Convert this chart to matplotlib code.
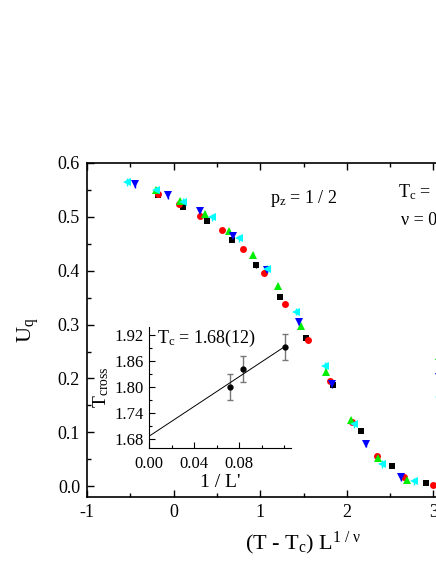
import numpy as np
import matplotlib
matplotlib.use("Agg")
import matplotlib.pyplot as plt
from matplotlib.ticker import MultipleLocator, AutoMinorLocator

plt.rcParams['font.family'] = ['Liberation Serif', 'DejaVu Serif']
plt.rcParams['mathtext.fontset'] = 'custom'
plt.rcParams['mathtext.rm'] = 'Liberation Serif'
plt.rcParams['mathtext.it'] = 'Liberation Serif'
plt.rcParams['mathtext.default'] = 'regular'
plt.rcParams['axes.unicode_minus'] = False

# scaled Binder cumulant, one series per lattice size
x_black = [-0.18, 0.11, 0.39, 0.67, 0.95, 1.23, 1.53, 1.84, 2.16, 2.52, 2.92]
y_black = [0.540, 0.519, 0.492, 0.457, 0.410, 0.351, 0.276, 0.188, 0.103, 0.037, 0.006]

x_red = [-0.18, 0.06, 0.31, 0.555, 0.80, 1.04, 1.29, 1.55, 1.81, 2.06, 2.35, 2.66, 3.00]
y_red = [0.542, 0.524, 0.502, 0.475, 0.440, 0.395, 0.339, 0.271, 0.195, 0.120, 0.056, 0.017, 0.002]

x_green = [-0.20, 0.07, 0.36, 0.64, 0.92, 1.20, 1.47, 1.76, 2.05, 2.36, 2.69]
y_green = [0.550, 0.530, 0.505, 0.473, 0.430, 0.372, 0.298, 0.212, 0.123, 0.053, 0.011]

x_blue = [-0.45, -0.07, 0.31, 0.69, 1.08, 1.45, 1.83, 2.22, 2.63]
y_blue = [0.561, 0.541, 0.511, 0.464, 0.402, 0.305, 0.190, 0.079, 0.017]

x_cyan = [-0.54, -0.20, 0.105, 0.44, 0.76, 1.08, 1.41, 1.75, 2.08, 2.41, 2.78]
y_cyan = [0.565, 0.549, 0.528, 0.499, 0.460, 0.403, 0.324, 0.223, 0.115, 0.041, 0.009]

labels = ['L = 8', 'L = 10', 'L = 12', 'L = 14', 'L = 16']

# inset: crossing temperatures vs 1/L'
inv_L = [0.072, 0.083, 0.121]
T_cross = [1.800, 1.841, 1.891]
T_err = [0.03, 0.03, 0.03]

fig = plt.figure(figsize=(4.36, 5.64), dpi=100)
ax = fig.add_axes([87/436, 1 - 497/564, 5*86.6/436, (497 - 163)/564])

series = [
    (x_black, y_black, 's', 'black', 4.0, 0.004),
    (x_red, y_red, 'o', 'red', 5.0, 0.004),
    (x_green, y_green, '^', '#00ee00', 5.5, 0.005),
    (x_blue, y_blue, 'v', 'blue', 5.5, 0.007),
    (x_cyan, y_cyan, '<', 'cyan', 5.5, 0.007),
]
handles = []
for (xs, ys, m, c, ms, err), lab in zip(series, labels):
    h = ax.errorbar(xs, ys, yerr=err, fmt=m, color=c, ms=ms, mew=0,
                    elinewidth=1, capsize=2.5, label=lab)
    handles.append(h)

ax.set_xlim(-1, 4)
ax.set_ylim(-0.02, 0.6)
ax.xaxis.set_major_locator(MultipleLocator(1))
ax.xaxis.set_minor_locator(MultipleLocator(0.5))
ax.yaxis.set_major_locator(MultipleLocator(0.1))
ax.yaxis.set_minor_locator(MultipleLocator(0.05))
ax.yaxis.set_major_formatter(matplotlib.ticker.FormatStrFormatter('%.1f'))
ax.tick_params(which='both', direction='in', top=True, right=True, labelsize=13, width=1)
ax.tick_params(which='major', length=5, pad=5)
ax.tick_params(which='minor', length=3)
for s in ax.spines.values():
    s.set_linewidth(1.2)

ax.set_xlabel('(T - T$_c$) L$^{1\\ /\\ ν}$', fontsize=16, labelpad=6)
ax.set_ylabel('U$_q$', fontsize=16, labelpad=12)

fig.text(270/436, 1 - 203/564, 'p$_z$ = 1 / 2', fontsize=13, va='baseline')
fig.text(398/436, 1 - 197/564, 'T$_c$ = 1.68', fontsize=13, va='baseline')
fig.text(401/436, 1 - 225/564, 'ν = 0.71', fontsize=13, va='baseline')

ax.legend(handles=handles, loc='upper left', bbox_to_anchor=(430/436, 1 - 308/564),
          bbox_transform=fig.transFigure, frameon=False, fontsize=13,
          borderpad=0, borderaxespad=0, handlelength=1, labelspacing=0.2)

# inset
ins = fig.add_axes([149/436, 1 - 448/564, 142/436, (448 - 327)/564])
ins.errorbar(inv_L, T_cross, yerr=T_err, fmt='o', color='black', ms=3.5,
             ecolor='#777777', elinewidth=1, capsize=2.5)
slope, icpt = np.polyfit(inv_L, T_cross, 1)
xf = np.array([0, max(inv_L)])
ins.plot(xf, icpt + slope*xf, color='black', lw=0.7)
ins.set_xlim(0, 0.126)
ins.set_ylim(1.659, 1.938)
ins.set_xticks([0.00, 0.04, 0.08])
ins.set_yticks([1.68, 1.74, 1.80, 1.86, 1.92])
ins.xaxis.set_major_formatter(matplotlib.ticker.FormatStrFormatter('%.2f'))
ins.xaxis.set_minor_locator(MultipleLocator(0.02))
ins.yaxis.set_minor_locator(AutoMinorLocator(2))
ins.spines['top'].set_visible(False)
ins.spines['right'].set_visible(False)
ins.tick_params(which='both', direction='in', labelsize=12, width=0.8)
ins.tick_params(which='major', length=4, pad=4)
ins.tick_params(which='minor', length=2.5)
ins.tick_params(axis='x', pad=6)
ins.set_xlabel("1 / L'", fontsize=14, labelpad=1)
ins.set_ylabel('T$_{cross}$', fontsize=14, labelpad=2)
fig.text(157/436, 1 - 343/564, 'T$_c$ = 1.68(12)', fontsize=13, va='baseline')

fig.savefig('out.png', dpi=100)
